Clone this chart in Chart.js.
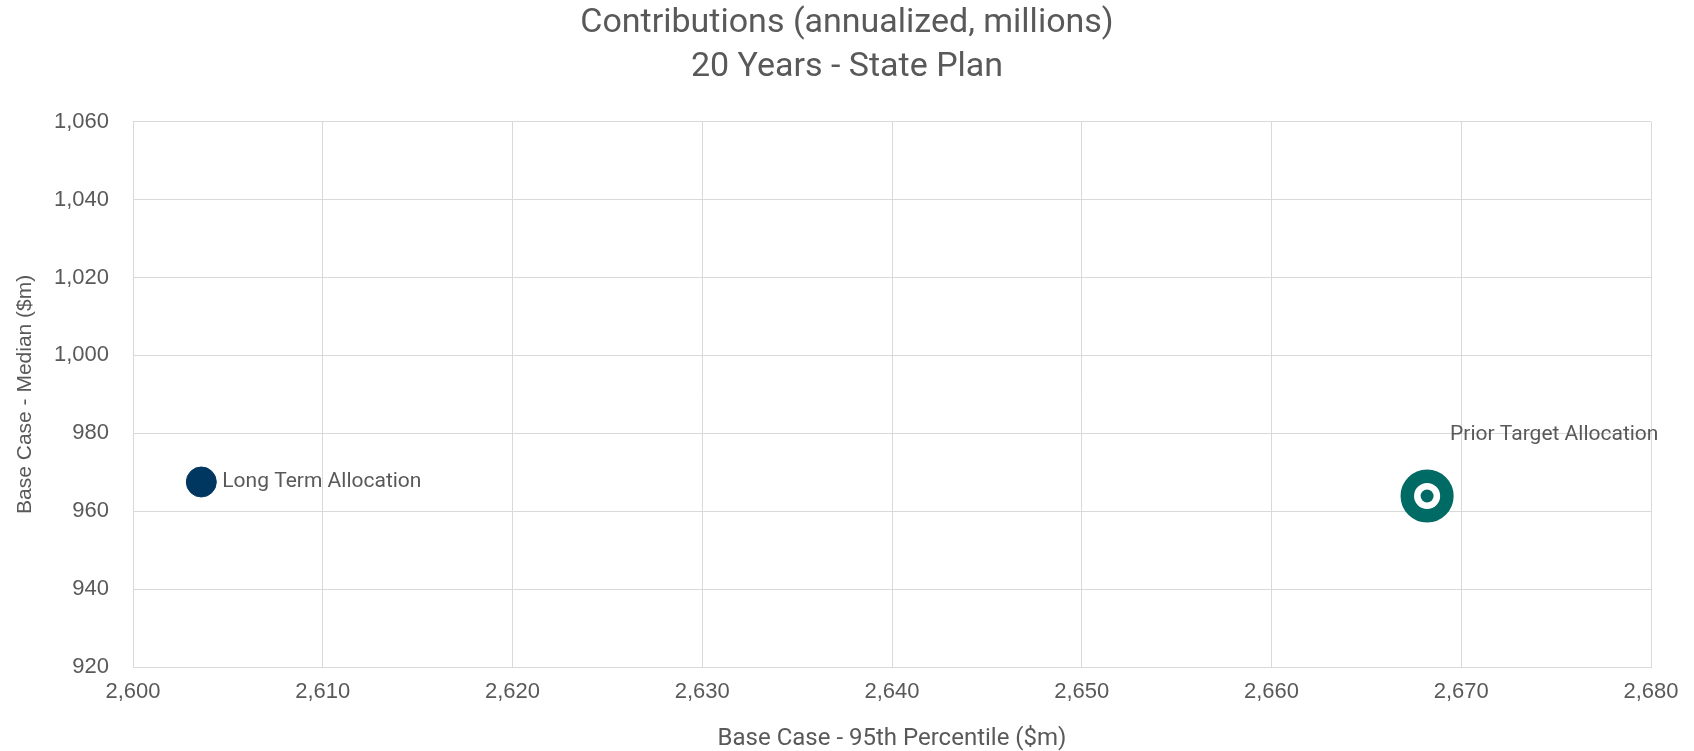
<!DOCTYPE html>
<html>
<head>
<meta charset="utf-8">
<script src="https://cdn.jsdelivr.net/npm/chart.js@4"></script>
<style>
  html, body { margin: 0; padding: 0; background: #fff; }
  #wrap { width: 1694px; height: 751px; }
</style>
</head>
<body>
<div id="wrap"><canvas id="contribChart"></canvas></div>
<script>
const nombres = ['Long Term Allocation', 'Prior Target Allocation'];
const percentil95 = [2603.6, 2668.2];
const mediana = [967.5, 963.9];
const xTicks = [2600, 2610, 2620, 2630, 2640, 2650, 2660, 2670, 2680];
const yTicks = [920, 940, 960, 980, 1000, 1020, 1040, 1060];

const roboto = "Roboto, 'Noto Sans', sans-serif";
const arial = "'Liberation Sans', Arial, sans-serif";
const gris = '#595959';

// etiquetas al lado de cada punto
const etiquetasPlugin = {
  id: 'etiquetas',
  afterDatasetsDraw(chart) {
    const ctx = chart.ctx;
    const desplaz = [[21, 0], [23, -61]];
    ctx.save();
    ctx.font = '21px ' + roboto;
    ctx.fillStyle = gris;
    ctx.textBaseline = 'middle';
    ctx.textAlign = 'left';
    [0, 1].forEach(i => {
      const pt = chart.getDatasetMeta(i).data[0];
      ctx.fillText(nombres[i], pt.x + desplaz[i][0], pt.y + desplaz[i][1]);
    });
    ctx.restore();
  }
};

const ctx = document.getElementById('contribChart').getContext('2d');
new Chart(ctx, {
  type: 'scatter',
  data: {
    datasets: [
      {
        label: nombres[0],
        data: [{ x: percentil95[0], y: mediana[0] }],
        backgroundColor: '#003761',
        borderColor: '#003761',
        pointRadius: 15,
        pointHoverRadius: 15,
        order: 2
      },
      {
        label: nombres[1],
        data: [{ x: percentil95[1], y: mediana[1] }],
        backgroundColor: '#ffffff',
        borderColor: '#006B65',
        borderWidth: 13.5,
        pointRadius: 19.8,
        pointHoverRadius: 19.8,
        order: 1
      },
      {
        label: nombres[1] + ' centro',
        data: [{ x: percentil95[1], y: mediana[1] }],
        backgroundColor: '#006B65',
        borderColor: '#006B65',
        borderWidth: 0,
        pointRadius: 6.5,
        pointHoverRadius: 6.5,
        order: 0
      }
    ]
  },
  options: {
    responsive: true,
    maintainAspectRatio: false,
    animation: false,
    layout: { padding: 0 },
    plugins: {
      legend: { display: false },
      tooltip: { enabled: false },
      title: {
        display: true,
        text: ['Contributions (annualized, millions)', '20 Years - State Plan'],
        color: gris,
        font: { family: roboto, size: 34, weight: 'normal', lineHeight: 1.29 },
        padding: { top: 2, bottom: 32 }
      }
    },
    scales: {
      x: {
        type: 'linear',
        min: 2600,
        max: 2680,
        afterBuildTicks(scale) { scale.ticks = xTicks.map(v => ({ value: v })); },
        afterFit(scale) { scale.height = 84; },
        grid: { color: '#D9D9D9', lineWidth: 1, drawTicks: false },
        border: { color: '#D9D9D9' },
        ticks: {
          color: gris,
          font: { family: arial, size: 22 },
          padding: 12,
          callback: v => v.toLocaleString('en-US')
        },
        title: {
          display: true,
          text: 'Base Case - 95th Percentile ($m)',
          color: gris,
          font: { family: roboto, size: 24, lineHeight: 1 },
          padding: { top: 0, bottom: 0 }
        }
      },
      y: {
        type: 'linear',
        min: 920,
        max: 1060,
        afterBuildTicks(scale) { scale.ticks = yTicks.map(v => ({ value: v })); },
        afterFit(scale) { scale.width = 133; },
        grid: { color: '#D9D9D9', lineWidth: 1, drawTicks: false },
        border: { color: '#D9D9D9' },
        ticks: {
          color: gris,
          font: { family: arial, size: 22 },
          padding: 24,
          callback: v => v.toLocaleString('en-US')
        },
        title: {
          display: true,
          text: 'Base Case - Median ($m)',
          color: gris,
          font: { family: arial, size: 21 },
          padding: { top: 13, bottom: 0 }
        }
      },
      // margen derecho vacío (deja el título centrado en todo el ancho)
      margen: {
        type: 'linear',
        position: 'right',
        display: true,
        afterFit(scale) { scale.width = 43; },
        grid: { display: false },
        border: { display: false },
        ticks: { display: false }
      }
    }
  },
  plugins: [etiquetasPlugin]
});
</script>
</body>
</html>
